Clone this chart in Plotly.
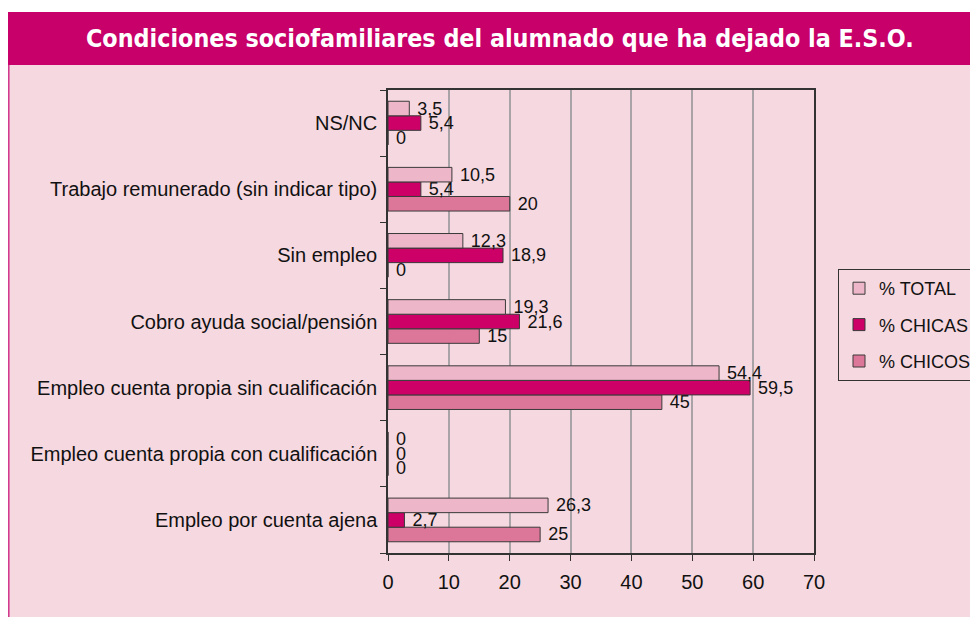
import plotly.graph_objects as go

# categories, bottom -> top as drawn
CATEGORIES = [
    "Empleo por cuenta ajena",
    "Empleo cuenta propia con cualificación",
    "Empleo cuenta propia sin cualificación",
    "Cobro ayuda social/pensión",
    "Sin empleo",
    "Trabajo remunerado (sin indicar tipo)",
    "NS/NC",
]
TOTAL = [26.3, 0, 54.4, 19.3, 12.3, 10.5, 3.5]
CHICAS = [2.7, 0, 59.5, 21.6, 18.9, 5.4, 5.4]
CHICOS = [25, 0, 45, 15, 0, 20, 0]

X_TICKS = [0, 10, 20, 30, 40, 50, 60, 70]
TITLE = "Condiciones sociofamiliares del alumnado que ha dejado la E.S.O."

MAGENTA = "#C8006A"
BG = "#F6D8E0"
COL = {"% TOTAL": "#EDB6C9", "% CHICAS": "#CC0066", "% CHICOS": "#DD7799"}
RANK = {"% TOTAL": 1, "% CHICAS": 2, "% CHICOS": 3}
FONT = "Liberation Sans, Arial, sans-serif"

# page body adds an 8px offset, so the figure is laid out in page px - 8
OFF = 8
W, H = 978 - OFF, 617 - OFF
L, T = 388 - OFF, 90 - OFF
PW, PH = 426, 463
R, B = W - L - PW, H - T - PH


def px_x(px):
    return (px - OFF - L) / PW


def px_y(py):
    return (T + PH - (py - OFF)) / PH


def fmt(v):
    # nbsp keeps a small gap between bar end and label, as in the source
    return "\u00a0" + f"{v:g}".replace(".", ",")


fig = go.Figure()
# drawn bottom-up inside each group, so CHICOS first
for name, vals in [("% CHICOS", CHICOS), ("% CHICAS", CHICAS), ("% TOTAL", TOTAL)]:
    fig.add_trace(go.Bar(
        y=CATEGORIES, x=vals, orientation="h", name=name,
        legendgroup=name, legendrank=RANK[name],
        marker=dict(color=COL[name], line=dict(color="#3a3a3a", width=1)),
        text=[fmt(v) for v in vals], textposition="outside",
        constraintext="none", cliponaxis=False,
        textfont=dict(family=FONT, size=18, color="#111"),
    ))

shapes = [
    dict(type="rect", xref="paper", yref="paper",
         x0=px_x(8), x1=px_x(990), y0=px_y(630), y1=px_y(65),
         fillcolor=BG, line=dict(width=0), layer="below"),
    dict(type="rect", xref="paper", yref="paper",
         x0=px_x(8), x1=px_x(990), y0=px_y(65), y1=px_y(12),
         fillcolor=MAGENTA, line=dict(width=0), layer="below"),
    dict(type="line", xref="paper", yref="paper",
         x0=px_x(8.8), x1=px_x(8.8), y0=px_y(630), y1=px_y(65),
         line=dict(color="#D0338A", width=1.5)),
]

fig.add_annotation(
    xref="paper", yref="paper", x=px_x(500), y=px_y(38.5),
    text=f"<b>{TITLE}</b>", showarrow=False,
    xanchor="center", yanchor="middle",
    font=dict(family="DejaVu Sans Condensed, DejaVu Sans", size=24.8, color="white"),
)

fig.update_layout(
    template="none",
    width=W, height=H,
    margin=dict(l=L, r=R, t=T, b=B, autoexpand=False),
    paper_bgcolor="white", plot_bgcolor=BG,
    barmode="group", bargap=0.34, bargroupgap=0,
    font=dict(family=FONT, size=20, color="#111"),
    shapes=shapes,
    showlegend=True,
    legend=dict(
        x=px_x(838), y=px_y(269), xanchor="left", yanchor="top",
        traceorder="grouped", tracegroupgap=10, itemwidth=30,
        bgcolor=BG, bordercolor="#333", borderwidth=1,
        font=dict(family=FONT, size=18, color="#111"),
    ),
    xaxis=dict(
        range=[0, 70], tickvals=X_TICKS, showgrid=True,
        gridcolor="#A9A3A8", gridwidth=1.5, zeroline=False,
        showline=True, linecolor="#333", linewidth=1.5, mirror=True,
        ticks="outside", ticklen=6, tickcolor="#333",
        ticklabelstandoff=4, automargin=False,
    ),
    yaxis=dict(
        categoryorder="array", categoryarray=CATEGORIES,
        showline=True, linecolor="#333", linewidth=1.5, mirror=True,
        ticks="outside", ticklen=6, tickcolor="#333",
        tickson="boundaries", showgrid=False, zeroline=False,
        ticklabelstandoff=5, automargin=False,
    ),
)

fig.write_html("out.html")
